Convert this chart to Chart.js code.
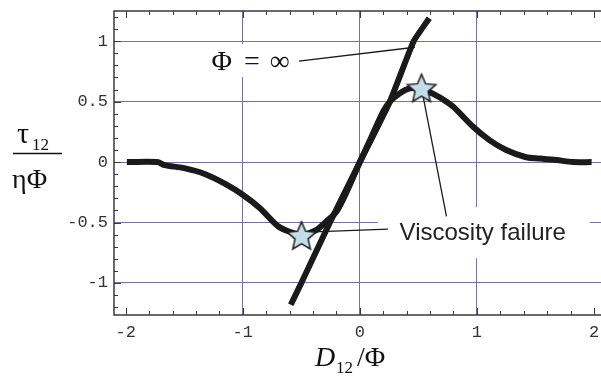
<!DOCTYPE html>
<html>
<head>
<meta charset="utf-8">
<script src="https://cdn.jsdelivr.net/npm/chart.js@4.4.0/dist/chart.umd.min.js"></script>
<style>
  html, body { margin: 0; padding: 0; background: #fff; }
</style>
</head>
<body>
<canvas id="chart" width="601" height="382"></canvas>
<script>
// viscosity failure curve
const curveX = [-1.99, -1.73, -1.67, -1.5, -1.32, -1.15, -1.0, -0.855, -0.7, -0.6, -0.5, -0.37, -0.285, -0.2, -0.1, 0, 0.1, 0.2, 0.256, 0.342, 0.427, 0.52, 0.655, 0.74, 0.8, 0.97, 1.11, 1.25, 1.42, 1.54, 1.68, 1.82, 1.98];
const curveY = [0, 0, -0.025, -0.05, -0.1, -0.18, -0.27, -0.38, -0.53, -0.576, -0.6, -0.56, -0.49, -0.41, -0.22, 0, 0.21, 0.42, 0.5, 0.57, 0.61, 0.61, 0.55, 0.5, 0.457, 0.29, 0.18, 0.1, 0.04, 0.03, 0.017, 0, 0];

// Phi = infinity line
const lineX = [-0.59, -0.5, -0.256, 0, 0.256, 0.46, 0.593];
const lineY = [-1.18, -1.0, -0.5, 0, 0.5, 1.0, 1.19];

// stars marking viscosity failure
const starX = [-0.498, 0.527];
const starY = [-0.61, 0.61];

const xTicks = [-2, -1, 0, 1, 2];
const xTickLabels = ["-2", "-1", "0", "1", "2"];
const yTicks = [-1, -0.5, 0, 0.5, 1];
const yTickLabels = ["-1", "-0.5", "0", "0.5", "1"];
const xGrid = [-1, 0, 1];

// annotations (data units)
const phiLabel = { x: -0.94, y: 0.835 };
const phiLeader = [{ x: -0.52, y: 0.835 }, { x: 0.47, y: 0.95 }];
const viscLabel = { x: 1.05, y: -0.58 };
const viscLeaderA = [{ x: 0.24, y: -0.554 }, { x: -0.45, y: -0.58 }];
const viscLeaderB = [{ x: 0.74, y: -0.45 }, { x: 0.527, y: 0.61 }];

const gridColor = "#7272a4";
const ink = "#1a1a1a";
const tickFont = { family: "'Liberation Mono', monospace", size: 17 };

const pairs = (xs, ys) => xs.map((x, i) => ({ x: x, y: ys[i] }));

function makeStar(r) {
  const c = document.createElement("canvas");
  const s = Math.ceil(r * 2 + 4);
  c.width = s; c.height = s;
  const g = c.getContext("2d");
  g.translate(s / 2, s / 2 + 1);
  g.beginPath();
  for (let i = 0; i < 10; i++) {
    const rad = i % 2 ? r * 0.46 : r;
    const a = -Math.PI / 2 + i * Math.PI / 5;
    g.lineTo(rad * Math.cos(a), rad * Math.sin(a));
  }
  g.closePath();
  g.fillStyle = "#c4dee9";
  g.fill();
  g.lineWidth = 1.5;
  g.strokeStyle = "#1a1a1a";
  g.stroke();
  return c;
}

const decor = {
  id: "decor",
  beforeDatasetsDraw(chart) {
    const { ctx, chartArea: a, scales: { x, y } } = chart;
    ctx.save();
    // white boxes behind the labels
    ctx.fillStyle = "#fff";
    const px = x.getPixelForValue(phiLabel.x), py = y.getPixelForValue(phiLabel.y);
    ctx.fillRect(px - 50, py - 17, 97, 33);
    const vx = x.getPixelForValue(viscLabel.x), vy = y.getPixelForValue(viscLabel.y);
    ctx.fillRect(vx - 105, vy - 25, 212, 51);

    // frame (left, top, bottom)
    ctx.strokeStyle = "#3a3a3a";
    ctx.lineWidth = 1.5;
    ctx.beginPath();
    ctx.moveTo(a.right + 1, a.top);
    ctx.lineTo(a.left, a.top);
    ctx.lineTo(a.left, a.bottom);
    ctx.lineTo(a.right + 1, a.bottom);
    ctx.stroke();

    // inward ticks
    ctx.lineWidth = 1;
    ctx.beginPath();
    for (let v = -2; v <= 2.001; v += 0.2) {
      const major = Math.abs(v - Math.round(v)) < 1e-6;
      const len = major ? 7 : 4;
      const p = Math.round(x.getPixelForValue(v)) + 0.5;
      ctx.moveTo(p, a.bottom); ctx.lineTo(p, a.bottom - len);
      ctx.moveTo(p, a.top); ctx.lineTo(p, a.top + len);
    }
    for (let k = -12; k <= 12; k++) {
      const v = k / 10;
      const major = k % 5 === 0;
      const len = major ? 7 : 4;
      const p = Math.round(y.getPixelForValue(v)) + 0.5;
      ctx.moveTo(a.left, p); ctx.lineTo(a.left + len, p);
    }
    ctx.stroke();

    // labels
    ctx.fillStyle = "#111";
    ctx.textBaseline = "alphabetic";
    ctx.textAlign = "center";
    ctx.font = "28px 'Liberation Serif', serif";
    ctx.fillText("\u03A6", px - 28, py + 9);
    ctx.fillText("=", px + 2, py + 9);
    ctx.fillText("\u221E", px + 30, py + 9);

    ctx.font = "24px 'Liberation Sans', Arial, sans-serif";
    ctx.fillStyle = "#222";
    ctx.fillText("Viscosity failure", vx, vy + 8);
    ctx.restore();
  },
  afterDraw(chart) {
    const { ctx } = chart;
    ctx.save();
    ctx.fillStyle = "#111";
    ctx.strokeStyle = "#111";
    ctx.textBaseline = "alphabetic";
    ctx.textAlign = "left";
    // y title: tau_12 / (eta Phi)
    ctx.font = "30px 'Liberation Serif', serif";
    ctx.fillText("\u03C4", 17, 143);
    ctx.font = "17px 'Liberation Serif', serif";
    ctx.fillText("12", 32, 150);
    ctx.lineWidth = 1.3;
    ctx.beginPath();
    ctx.moveTo(13, 153.5); ctx.lineTo(62, 153.5);
    ctx.stroke();
    ctx.font = "28px 'Liberation Serif', serif";
    ctx.fillText("\u03B7\u03A6", 12, 188);
    // x title: D_12 / Phi
    ctx.font = "italic 28px 'Liberation Serif', serif";
    ctx.fillText("D", 315, 366);
    ctx.font = "17px 'Liberation Serif', serif";
    ctx.fillText("12", 336, 373);
    ctx.font = "28px 'Liberation Serif', serif";
    ctx.fillText("/\u03A6", 357, 366);
    ctx.restore();
  }
};

const thin = { showLine: true, borderColor: ink, borderWidth: 1.3, pointRadius: 0 };

// Chart.js paints dataset 0 last, so the stars come first to sit on top
new Chart(document.getElementById("chart"), {
  type: "scatter",
  data: {
    datasets: [
      { data: pairs(starX, starY), showLine: false, pointStyle: makeStar(15), pointRadius: 15, clip: false },
      { data: pairs(curveX, curveY), showLine: true, borderColor: ink, borderWidth: 6, pointRadius: 0, tension: 0.3, borderJoinStyle: "round" },
      { data: pairs(lineX, lineY), showLine: true, borderColor: ink, borderWidth: 6, pointRadius: 0, tension: 0.15 },
      { ...thin, data: phiLeader },
      { ...thin, data: viscLeaderA },
      { ...thin, data: viscLeaderB }
    ]
  },
  options: {
    responsive: false,
    animation: false,
    events: [],
    layout: { autoPadding: false, padding: { top: 11, right: 0, left: 0, bottom: 0 } },
    plugins: { legend: { display: false }, tooltip: { enabled: false } },
    scales: {
      x: {
        type: "linear",
        min: -2.1,
        max: 2.06,
        afterBuildTicks: s => { s.ticks = xTicks.map(v => ({ value: v })); },
        afterFit: s => { s.height = 67; s.paddingLeft = 0; s.paddingRight = 0; },
        border: { display: false },
        grid: {
          color: c => (c.tick && xGrid.includes(c.tick.value)) ? gridColor : "rgba(0,0,0,0)",
          lineWidth: 1,
          drawTicks: false
        },
        ticks: {
          font: tickFont,
          color: "#333",
          padding: 7,
          maxRotation: 0,
          autoSkip: false,
          callback: (v, i) => xTickLabels[i]
        }
      },
      y: {
        type: "linear",
        min: -1.265,
        max: 1.25,
        afterBuildTicks: s => { s.ticks = yTicks.map(v => ({ value: v })); },
        afterFit: s => { s.width = 114; s.paddingTop = 0; s.paddingBottom = 0; },
        border: { display: false },
        grid: { color: gridColor, lineWidth: 1, drawTicks: false },
        ticks: {
          font: tickFont,
          color: "#333",
          padding: 6,
          autoSkip: false,
          callback: (v, i) => yTickLabels[i]
        }
      }
    }
  },
  plugins: [decor]
});
</script>
</body>
</html>
